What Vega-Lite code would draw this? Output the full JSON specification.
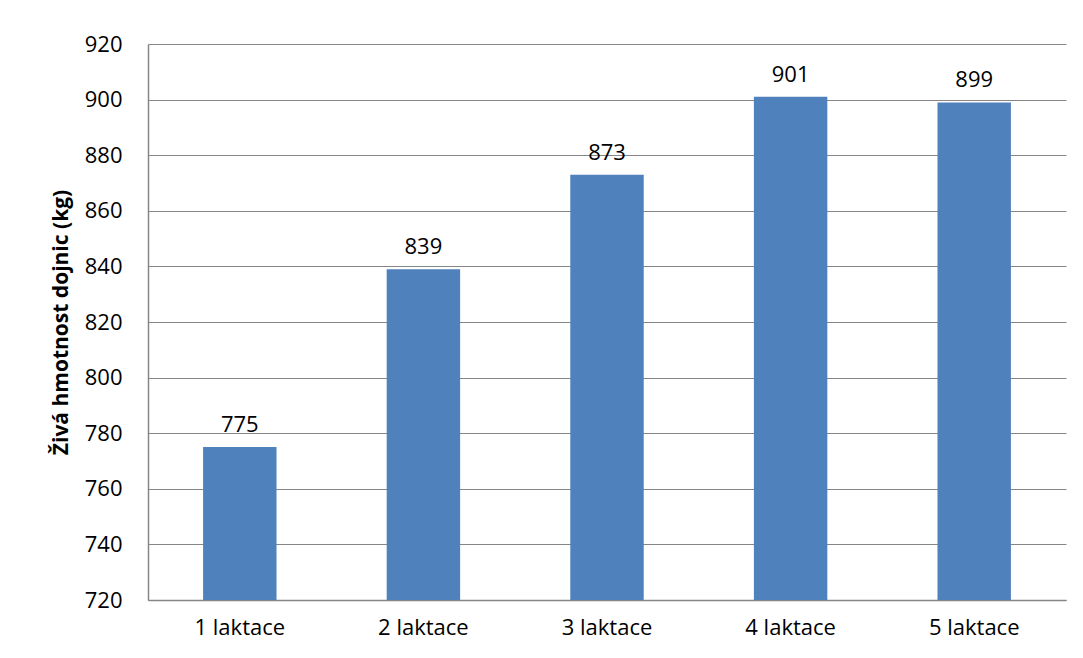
{
  "$schema": "https://vega.github.io/schema/vega-lite/v6.json",
  "autosize": {"type": "none"},
  "width": 918,
  "height": 556,
  "padding": {"left": 148, "top": 44, "right": 17, "bottom": 58},
  "background": "white",
  "config": {
    "view": {"stroke": null},
    "font": "Open Sans"
  },
  "data": {
    "values": [
      {"laktace": "1 laktace", "hmotnost": 775},
      {"laktace": "2 laktace", "hmotnost": 839},
      {"laktace": "3 laktace", "hmotnost": 873},
      {"laktace": "4 laktace", "hmotnost": 901},
      {"laktace": "5 laktace", "hmotnost": 899}
    ]
  },
  "encoding": {
    "x": {
      "field": "laktace",
      "type": "nominal",
      "sort": null,
      "scale": {"paddingInner": 0.6, "paddingOuter": 0.3},
      "axis": {
        "title": null,
        "labelAngle": 0,
        "labelFont": "Open Sans",
        "labelFontSize": 22,
        "labelColor": "#000000",
        "labelPadding": 17,
        "ticks": false,
        "domainColor": "#868686",
        "domainWidth": 1.5,
        "grid": false
      }
    },
    "y": {
      "field": "hmotnost",
      "type": "quantitative",
      "scale": {"domain": [720, 920], "zero": false, "nice": false},
      "axis": {
        "title": "Živá hmotnost dojnic (kg)",
        "titleFont": "Open Sans",
        "titleFontSize": 21,
        "titleFontWeight": "bold",
        "titleColor": "#000000",
        "titleX": -81,
        "titleBaseline": "alphabetic",
        "values": [720, 740, 760, 780, 800, 820, 840, 860, 880, 900, 920],
        "labelFont": "Open Sans",
        "labelFontSize": 22,
        "labelColor": "#000000",
        "labelPadding": 26,
        "ticks": false,
        "domainColor": "#868686",
        "domainWidth": 1.5,
        "gridColor": "#868686",
        "gridWidth": 1.2
      }
    }
  },
  "layer": [
    {"mark": {"type": "bar", "color": "#4F81BD", "clip": true}},
    {
      "mark": {"type": "text", "baseline": "bottom", "dy": -10, "fontSize": 22, "font": "Open Sans", "color": "#000000"},
      "encoding": {"text": {"field": "hmotnost", "type": "quantitative"}}
    }
  ]
}
